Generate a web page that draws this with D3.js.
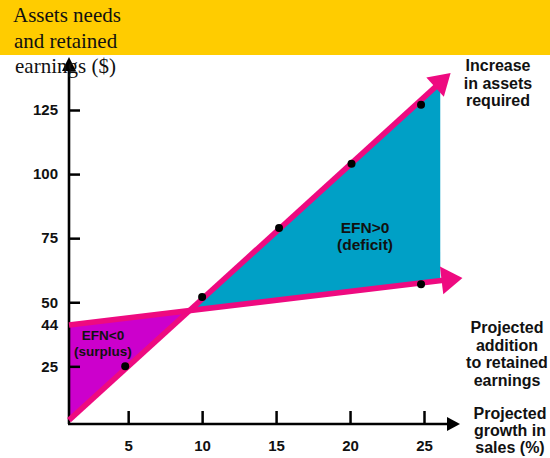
<!DOCTYPE html>
<html>
<head>
<meta charset="utf-8">
<script src="https://cdn.jsdelivr.net/npm/d3@7"></script>
<style>
	body { margin: 0; background: #fff; }
	svg { display: block; }
	.tick text { font-family: "Liberation Sans", Arial, sans-serif; font-weight: bold; font-size: 15px; fill: #111; }
	.lbl { font-family: "Liberation Sans", Arial, sans-serif; font-weight: bold; fill: #111; }
	.title { font-family: "Liberation Serif", "Times New Roman", serif; font-size: 21px; fill: #111; }
</style>
</head>
<body>
<div class="c-svg"></div>
<script>
//DATA
//-------------------------------------------------------------------------

//growth in sales (%) and assets needed ($) at the marked points
const growthPoints = [4.8, 10, 15.2, 20.1, 24.8];
const assetsPoints = [25, 52, 79, 104, 127];

//retained earnings marked point
const retainedPoints = [[24.8, 57]];

//lines as [growth, $] from start to arrow tip
const assetsLine = [[1, 4], [26.8, 139.4]];
const retainedLine = [[1, 41.1], [27.6, 59.5]];

//right edge of the deficit area (growth %)
const deficitEdge = 26.1;

const xTicks = [5, 10, 15, 20, 25];
const yTicks = [25, 50, 75, 100, 125];
const interceptLabel = "44";

const titleLines = ["Assets needs", "and retained", "earnings ($)"];
const assetsLabel = ["Increase", "in assets", "required"];
const retainedLabel = ["Projected", "addition", "to retained", "earnings"];
const xLabel = ["Projected", "growth in", "sales (%)"];
const surplusLabel = ["EFN<0", "(surplus)"];
const deficitLabel = ["EFN>0", "(deficit)"];


//INITIALISATION
//-------------------------------------------------------------------------

const opts = {
	width: 550,
	height: 458,
	pink: "#ee0a80",
	purple: "#cc00cc",
	cyan: "#00a0c6"
};

const svg = d3.select(".c-svg")
	.append("svg")
	.attr("width", opts.width)
	.attr("height", opts.height);

const x = d3.scaleLinear().domain([1, 25]).range([69, 424]);
const y = d3.scaleLinear().domain([2.5, 125]).range([424, 110]);

//value of a line at a given growth
function lineAt(line, g) {
	const [a, b] = line;
	return a[1] + (b[1] - a[1]) * (g - a[0]) / (b[0] - a[0]);
}

//crossing point of the two lines
function crossing(l1, l2) {
	const s1 = (l1[1][1] - l1[0][1]) / (l1[1][0] - l1[0][0]);
	const s2 = (l2[1][1] - l2[0][1]) / (l2[1][0] - l2[0][0]);
	const g = (l2[0][1] - l1[0][1] + s1 * l1[0][0] - s2 * l2[0][0]) / (s1 - s2);
	return [g, lineAt(l1, g)];
}

const cross = crossing(assetsLine, retainedLine);
const px = (p) => [x(p[0]), y(p[1])];


//HEADER
//-------------------------------------------------------------------------

svg.append("rect")
	.attr("x", 0).attr("y", 0)
	.attr("width", opts.width).attr("height", 55)
	.attr("fill", "#ffcc00");


//AREAS
//-------------------------------------------------------------------------

const poly = d3.line();

svg.append("path")
	.attr("d", poly([
		px(retainedLine[0]),
		px(cross),
		px(assetsLine[0])
	]) + "Z")
	.attr("fill", opts.purple);

svg.append("path")
	.attr("d", poly([
		px(cross),
		px([deficitEdge, lineAt(assetsLine, deficitEdge)]),
		px([deficitEdge, lineAt(retainedLine, deficitEdge)])
	]) + "Z")
	.attr("fill", opts.cyan);


//AXIS
//-------------------------------------------------------------------------

const yAxis = d3.axisLeft(y)
	.tickValues(yTicks)
	.tickSize(-11)
	.tickPadding(11);

const xAxis = d3.axisBottom(x)
	.tickValues(xTicks)
	.tickSize(-13)
	.tickPadding(16);

const gy = svg.append("g")
	.attr("transform", `translate(${x(1)} 0)`)
	.call(yAxis);

const gx = svg.append("g")
	.attr("transform", `translate(0 ${y(2.5)})`)
	.call(xAxis);

[gx, gy].forEach((g) => {
	g.select(".domain").remove();
	g.selectAll(".tick line").attr("stroke", "#000").attr("stroke-width", 2.5);
});

//44 label at the retained earnings intercept
svg.append("text")
	.attr("class", "lbl")
	.attr("x", x(1) - 11)
	.attr("y", y(retainedLine[0][1]))
	.attr("dy", "0.35em")
	.attr("text-anchor", "end")
	.attr("font-size", 15)
	.text(interceptLabel);


//ARROWS
//-------------------------------------------------------------------------

//line ending in a triangle head, in pixel space
function arrow(p0, p1, color, lw, len, wid) {
	const dx = p1[0] - p0[0], dy = p1[1] - p0[1];
	const d = Math.hypot(dx, dy);
	const ux = dx / d, uy = dy / d;
	const base = [p1[0] - ux * len, p1[1] - uy * len];
	svg.append("line")
		.attr("x1", p0[0]).attr("y1", p0[1])
		.attr("x2", base[0] + ux * 2).attr("y2", base[1] + uy * 2)
		.attr("stroke", color)
		.attr("stroke-width", lw);
	svg.append("path")
		.attr("d", poly([
			p1,
			[base[0] - uy * wid / 2, base[1] + ux * wid / 2],
			[base[0] + uy * wid / 2, base[1] - ux * wid / 2]
		]) + "Z")
		.attr("fill", color);
}

//axis lines
arrow([x(1), y(2.5)], [x(1), 57], "#000", 2.6, 14, 14);
arrow([x(1) - 1, y(2.5)], [460, y(2.5)], "#000", 2.6, 13, 14);

//pink lines
arrow(px(assetsLine[0]), px(assetsLine[1]), opts.pink, 5.5, 21, 26);
arrow(px(retainedLine[0]), px(retainedLine[1]), opts.pink, 5.5, 21, 28);


//POINTS
//-------------------------------------------------------------------------

const dots = growthPoints.map((g, i) => [g, assetsPoints[i]]).concat(retainedPoints);

svg.selectAll(".dot")
	.data(dots)
	.join("circle")
	.attr("class", "dot")
	.attr("cx", (d) => x(d[0]))
	.attr("cy", (d) => y(d[1]))
	.attr("r", 4)
	.attr("fill", "#000");


//TEXT
//-------------------------------------------------------------------------

function block(lines, cx, y0, size, step, cls, anchor) {
	const t = svg.append("text")
		.attr("class", cls)
		.attr("font-size", size)
		.attr("text-anchor", anchor || "middle");
	lines.forEach((l, i) => {
		t.append("tspan")
			.attr("x", Array.isArray(cx) ? cx[i] : cx)
			.attr("y", y0 + i * step)
			.text(l);
	});
}

block(titleLines, [13, 14, 15], 22, 21, 25.5, "title", "start");
block(assetsLabel, 498, 71, 16, 17.5, "lbl");
block(retainedLabel, 507, 333, 16, 17.5, "lbl");
block(xLabel, 510, 419, 16, 17, "lbl");
block(surplusLabel, 103, 340, 13.5, 15.5, "lbl");
block(deficitLabel, 365, 233, 15.5, 16.5, "lbl");
</script>
</body>
</html>
